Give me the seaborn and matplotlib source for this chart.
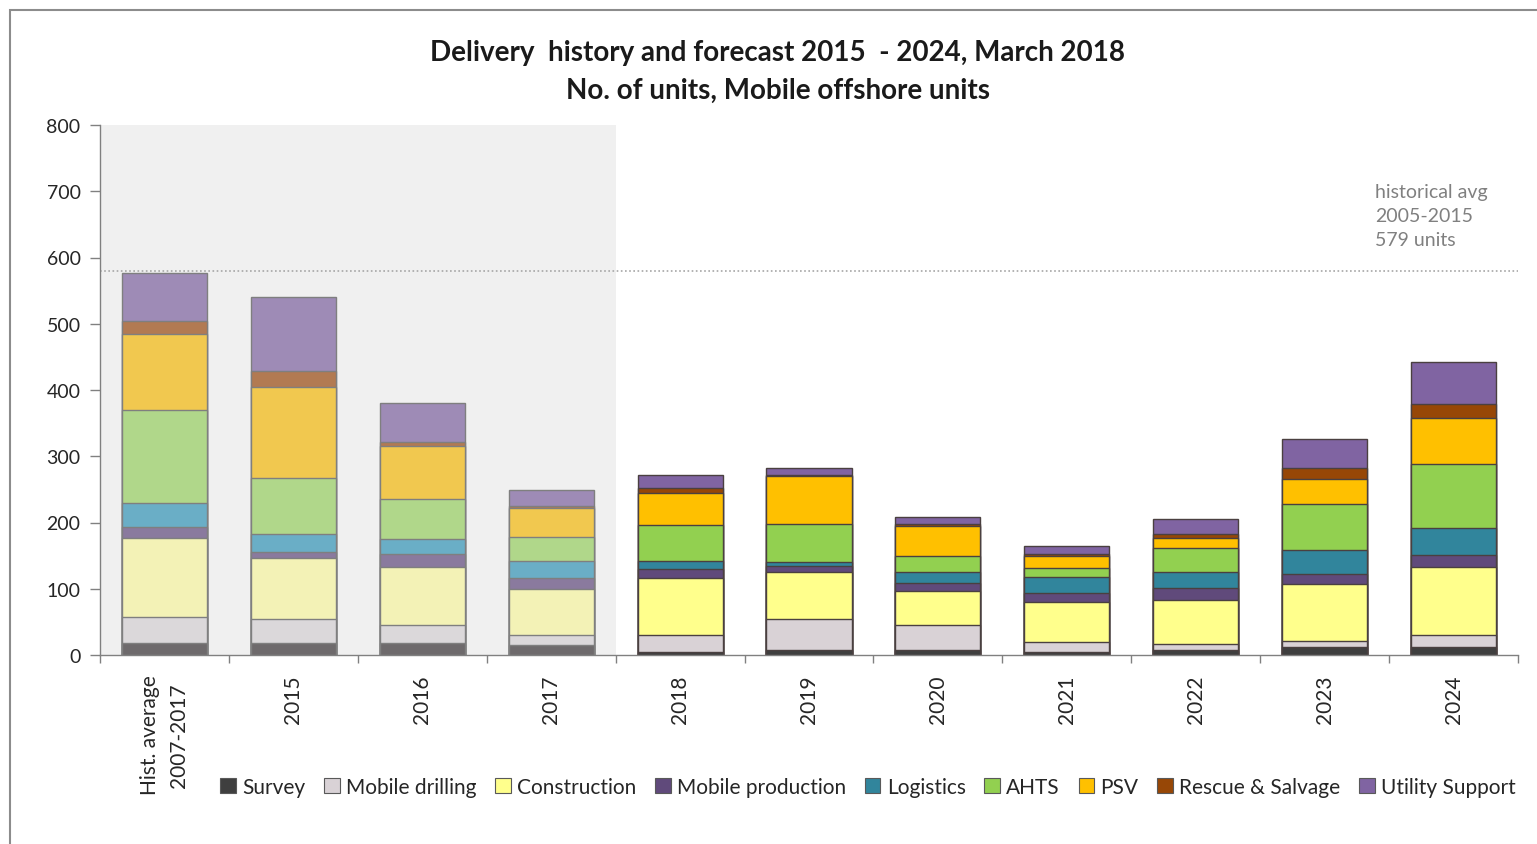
import pandas as pd
import seaborn as sns
import matplotlib

matplotlib.use("Agg")
import matplotlib.pyplot as plt
from matplotlib.patches import Patch, Rectangle


categories = ["Hist. average\n2007-2017", "2015", "2016", "2017", "2018", "2019",
              "2020", "2021", "2022", "2023", "2024"]
segments = ["Survey", "Mobile drilling", "Construction", "Mobile production",
            "Logistics", "AHTS", "PSV", "Rescue & Salvage", "Utility Support"]

survey = [18, 18, 18, 15, 5, 7, 8, 5, 7, 12, 12]
mobile_drilling = [40, 37, 27, 15, 25, 47, 38, 15, 10, 9, 18]
construction = [119, 92, 88, 69, 86, 72, 50, 60, 66, 86, 103]
mobile_production = [16, 9, 19, 17, 14, 9, 13, 14, 18, 15, 18]
logistics = [36, 27, 23, 26, 12, 5, 17, 24, 24, 36, 40]
ahts = [141, 84, 61, 36, 54, 58, 23, 14, 36, 70, 97]
psv = [114, 138, 80, 44, 48, 72, 46, 17, 15, 38, 69]
rescue = [20, 23, 5, 3, 8, 2, 2, 3, 6, 16, 22]
utility = [73, 113, 59, 24, 20, 10, 11, 13, 23, 44, 63]

hist_avg = 579
n_hist = 4  # first bars sit in the shaded "history" area

vivid = ["#3f3f3f", "#d9d2d6", "#ffff8c", "#604a7b", "#31859c",
         "#92d050", "#ffc000", "#974706", "#8064a2"]
muted = ["#6e6a6c", "#dbd8da", "#f3f2b6", "#8a7a9e", "#6aaec6",
         "#b0d78a", "#f1c84f", "#b27a52", "#9e8bb6"]

df = pd.DataFrame({
    "category": categories,
    "Survey": survey,
    "Mobile drilling": mobile_drilling,
    "Construction": construction,
    "Mobile production": mobile_production,
    "Logistics": logistics,
    "AHTS": ahts,
    "PSV": psv,
    "Rescue & Salvage": rescue,
    "Utility Support": utility,
})
cum = df[segments].cumsum(axis=1)

sns.set_theme(style="white")
plt.rcParams["font.family"] = ["Lato", "DejaVu Sans"]

fig = plt.figure(figsize=(15.37, 8.45), dpi=100)
ax = fig.add_axes([100 / 1537, 1 - 656 / 845, 1418 / 1537, 530 / 845])

span = ax.axvspan(-0.5, n_hist - 0.5, facecolor="#f0f0f0", edgecolor="none",
                  zorder=0, lw=0)

# draw cumulative totals from the top layer down so they stack
for i in range(len(segments) - 1, -1, -1):
    seg = segments[i]
    pal = {c: (muted[i] if k < n_hist else vivid[i]) for k, c in enumerate(categories)}
    plot_df = pd.DataFrame({"category": categories, "value": cum[seg]})
    sns.barplot(data=plot_df, x="category", y="value", hue="category",
                order=categories, hue_order=categories, palette=pal,
                dodge=False, legend=False, width=0.66, saturation=1,
                ax=ax, zorder=2)

for p in ax.patches:
    if p is span:
        continue
    p.set_linewidth(1.0)
    cx = p.get_x() + p.get_width() / 2
    p.set_edgecolor("#7f7f7f" if cx < n_hist - 0.5 else "#4a4040")

ax.axhline(hist_avg, color="#a6a6a6", lw=1.2, ls=(0, (1, 1.5)), zorder=1)
ax.text(9.39, 664, "historical avg\n2005-2015\n579 units", color="#808080",
        fontsize=14, ha="left", va="center", linespacing=1.5)

ax.set_xlim(-0.5, len(categories) - 0.5)
ax.set_ylim(0, 800)
ax.set_yticks(range(0, 801, 100))
ax.set_xlabel("")
ax.set_ylabel("")
ax.set_xticks(range(len(categories)))
ax.set_xticklabels(categories, rotation=90, fontsize=15, va="top", ha="center",
                   linespacing=1.6)
ax.set_xticks([x - 0.5 for x in range(len(categories) + 1)], minor=True)
ax.tick_params(axis="x", which="major", length=0, pad=14)
ax.tick_params(axis="x", which="minor", length=6, width=1, color="#808080",
               direction="out", bottom=True)
ax.tick_params(axis="y", length=7, width=1, color="#808080", direction="out",
               left=True, labelsize=14, pad=7)
for lbl in ax.get_yticklabels():
    lbl.set_color("#262626")
for s in ["top", "right"]:
    ax.spines[s].set_visible(False)
for s in ["left", "bottom"]:
    ax.spines[s].set_color("#808080")
    ax.spines[s].set_linewidth(1.0)

fig.text(778 / 1537, 1 - 53 / 845, "Delivery  history and forecast 2015  - 2024, March 2018",
         ha="center", va="center", fontsize=20, fontweight="bold", color="#1a1a1a")
fig.text(778 / 1537, 1 - 91 / 845, "No. of units, Mobile offshore units",
         ha="center", va="center", fontsize=20, fontweight="bold", color="#1a1a1a")

handles = [Patch(facecolor=vivid[i], edgecolor="#595959", lw=0.8, label=segments[i])
           for i in range(len(segments))]
fig.legend(handles=handles, loc="center", bbox_to_anchor=(868 / 1537, 1 - 788 / 845),
           ncol=9, frameon=False, fontsize=15, handlelength=0.75, handleheight=0.75,
           handletextpad=0.3, columnspacing=0.9)

fig.patches.append(Rectangle((10 / 1537, -0.05), 1.2, 1 - 11 / 845 + 0.05,
                             transform=fig.transFigure, fill=False,
                             edgecolor="#8c8c8c", lw=1.5))

fig.savefig("out.png", dpi=100)
